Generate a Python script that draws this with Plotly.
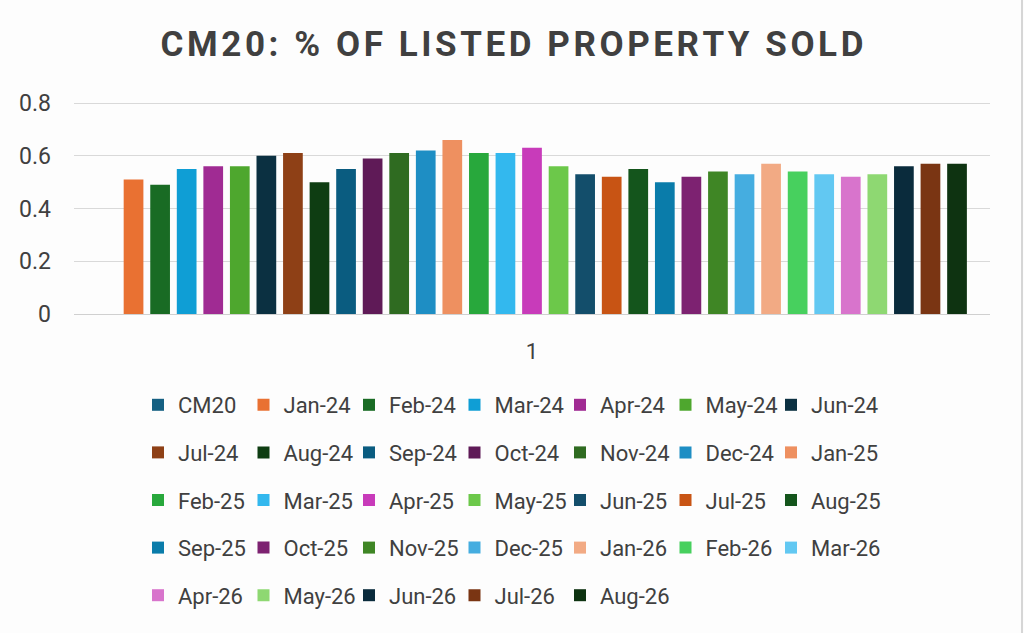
import plotly.graph_objects as go

# Data
series_names = ["CM20",
                "Jan-24", "Feb-24", "Mar-24", "Apr-24", "May-24", "Jun-24",
                "Jul-24", "Aug-24", "Sep-24", "Oct-24", "Nov-24", "Dec-24",
                "Jan-25", "Feb-25", "Mar-25", "Apr-25", "May-25", "Jun-25",
                "Jul-25", "Aug-25", "Sep-25", "Oct-25", "Nov-25", "Dec-25",
                "Jan-26", "Feb-26", "Mar-26", "Apr-26", "May-26", "Jun-26",
                "Jul-26", "Aug-26"]
series_values = [None,
                 0.51, 0.49, 0.55, 0.56, 0.56, 0.60,
                 0.61, 0.50, 0.55, 0.59, 0.61, 0.62,
                 0.66, 0.61, 0.61, 0.63, 0.56, 0.53,
                 0.52, 0.55, 0.50, 0.52, 0.54, 0.53,
                 0.57, 0.54, 0.53, 0.52, 0.53, 0.56,
                 0.57, 0.57]
series_colors = ["#156082",
                 "#E97132", "#196B24", "#0F9ED5", "#A02B93", "#4EA72E", "#0B3041",
                 "#8E4016", "#0E3D12", "#0A5C80", "#5F1A57", "#2F6B21", "#1E8EC4",
                 "#EE9060", "#28A83C", "#33B8EE", "#C83BBA", "#6CC84A", "#134E6B",
                 "#C85414", "#14551C", "#0A7CAA", "#7D2271", "#3F8625", "#45ADE0",
                 "#F2AA84", "#47D05E", "#62C8F2", "#D874CC", "#8ED872", "#0A2B3C",
                 "#7A3513", "#0E3311"]
category = ["1"]

font_family = "Roboto, Liberation Sans, Arial, sans-serif"
text_color = "#404040"

# plot area in pixels (used to place legend columns)
plot_left, plot_right = 74, 990
plot_top, plot_bottom = 100, 314
px_per_unit = 263.75
n_cols = 7
col_left_px = 138
col_pitch_px = 105.5
legend_top_px = 384

fig = go.Figure()

for i, (name, val, col) in enumerate(zip(series_names, series_values, series_colors)):
    c = i % n_cols
    legend_id = "legend" if c == 0 else "legend%d" % (c + 1)
    fig.add_trace(go.Bar(
        x=category,
        y=[val],
        name=name,
        legendgroup=name,
        marker=dict(color=col, line=dict(width=0)),
        legend=legend_id,
    ))

# one vertical legend per column so the grid matches the reference
legend_layout = {}
for c in range(n_cols):
    key = "legend" if c == 0 else "legend%d" % (c + 1)
    legend_layout[key] = dict(
        orientation="v",
        x=(col_left_px + col_pitch_px * c - plot_left) / (plot_right - plot_left),
        xanchor="left",
        y=(plot_bottom - legend_top_px) / (plot_bottom - plot_top),
        yanchor="top",
        itemwidth=30,
        tracegroupgap=16,
        traceorder="grouped",
        font=dict(family=font_family, size=22, color=text_color),
        bgcolor="rgba(0,0,0,0)",
    )

title_text = "CM20: % OF LISTED PROPERTY SOLD"
spaced_title = "\u200a".join(title_text)

fig.update_layout(
    width=1024,
    height=633,
    paper_bgcolor="#FDFDFD",
    plot_bgcolor="#FDFDFD",
    margin=dict(l=plot_left, r=1024 - plot_right, t=plot_top, b=633 - plot_bottom),
    title=dict(
        text=spaced_title,
        x=0.5,
        xanchor="center",
        y=1 - 44 / 633,
        yanchor="middle",
        font=dict(family=font_family, size=35, color=text_color, weight="bold"),
    ),
    barmode="group",
    bargap=0.043,
    bargroupgap=0.258,
    xaxis=dict(
        type="category",
        showgrid=False,
        showline=True,
        linecolor="#D0D0D0",
        linewidth=1,
        ticks="",
        ticklabelstandoff=18,
        tickfont=dict(family=font_family, size=22, color=text_color),
    ),
    yaxis=dict(
        range=[0, (plot_bottom - plot_top) / px_per_unit],
        tickvals=[0, 0.2, 0.4, 0.6, 0.8],
        ticktext=["0", "0.2", "0.4", "0.6", "0.8"],
        showgrid=True,
        gridcolor="#D9D9D9",
        gridwidth=1,
        zeroline=False,
        ticks="",
        ticklabelstandoff=22,
        tickfont=dict(family=font_family, size=23, color=text_color),
    ),
    **legend_layout,
)

# thin chart-area border on the right edge
fig.add_shape(type="line", xref="paper", yref="paper",
              x0=(1022 - plot_left) / (plot_right - plot_left),
              x1=(1022 - plot_left) / (plot_right - plot_left),
              y0=(plot_bottom - 633) / (plot_bottom - plot_top),
              y1=plot_bottom / (plot_bottom - plot_top),
              line=dict(color="#C8C8C8", width=1.5))

fig.write_html("out.html", config={"displayModeBar": False},
               post_script="document.body.style.margin='0';")
